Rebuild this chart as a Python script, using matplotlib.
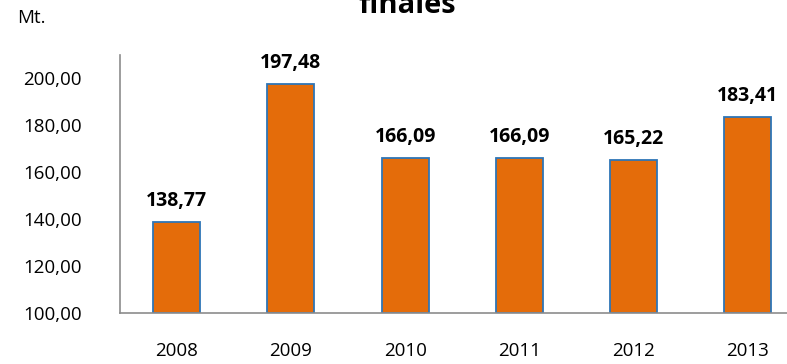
import matplotlib.pyplot as plt

years = ["2008", "2009", "2010", "2011", "2012", "2013"]
values = [138.77, 197.48, 166.09, 166.09, 165.22, 183.41]
y_ticks = [100, 120, 140, 160, 180, 200]

plt.rcParams['font.family'] = ['Open Sans', 'DejaVu Sans']

fig = plt.figure(figsize=(7.87, 3.64), dpi=100)
ax = fig.add_axes([119.5 / 787, 1 - 313 / 364, (805 - 119.5) / 787, (313 - 55) / 364])

x = range(len(years))
bars = ax.bar(x, [v - 100 for v in values], bottom=100, width=0.41,
              color='#E46C0A', edgecolor='#2E75B6', linewidth=1.3)

for xi, v in zip(x, values):
    ax.annotate(f"{v:.2f}".replace('.', ','), (xi, v), xytext=(0, 8),
                textcoords='offset points', ha='center', va='bottom',
                fontsize=14, fontweight='bold', color='black')

ax.set_xlim(-0.5, 5.5)
ax.set_ylim(100, 210)
ax.set_xticks(list(x))
ax.set_xticklabels(years)
ax.set_yticks(y_ticks)
ax.set_yticklabels([f"{t:.2f}".replace('.', ',') for t in y_ticks])
ax.tick_params(axis='both', length=0, labelsize=13.5, colors='black')
ax.tick_params(axis='y', pad=27)
ax.tick_params(axis='x', pad=21)

for side in ['top', 'right']:
    ax.spines[side].set_visible(False)
for side in ['left', 'bottom']:
    ax.spines[side].set_color('#8C8C8C')
    ax.spines[side].set_linewidth(1.2)

fig.text(17 / 787, 1 - 9 / 364, "Mt.", fontsize=13.5, va='top', ha='left')
fig.text(407 / 787, 1 - 13 / 364, "finales", fontsize=21, fontweight='bold',
         ha='center', va='baseline')

fig.savefig('out.png', dpi=100)
